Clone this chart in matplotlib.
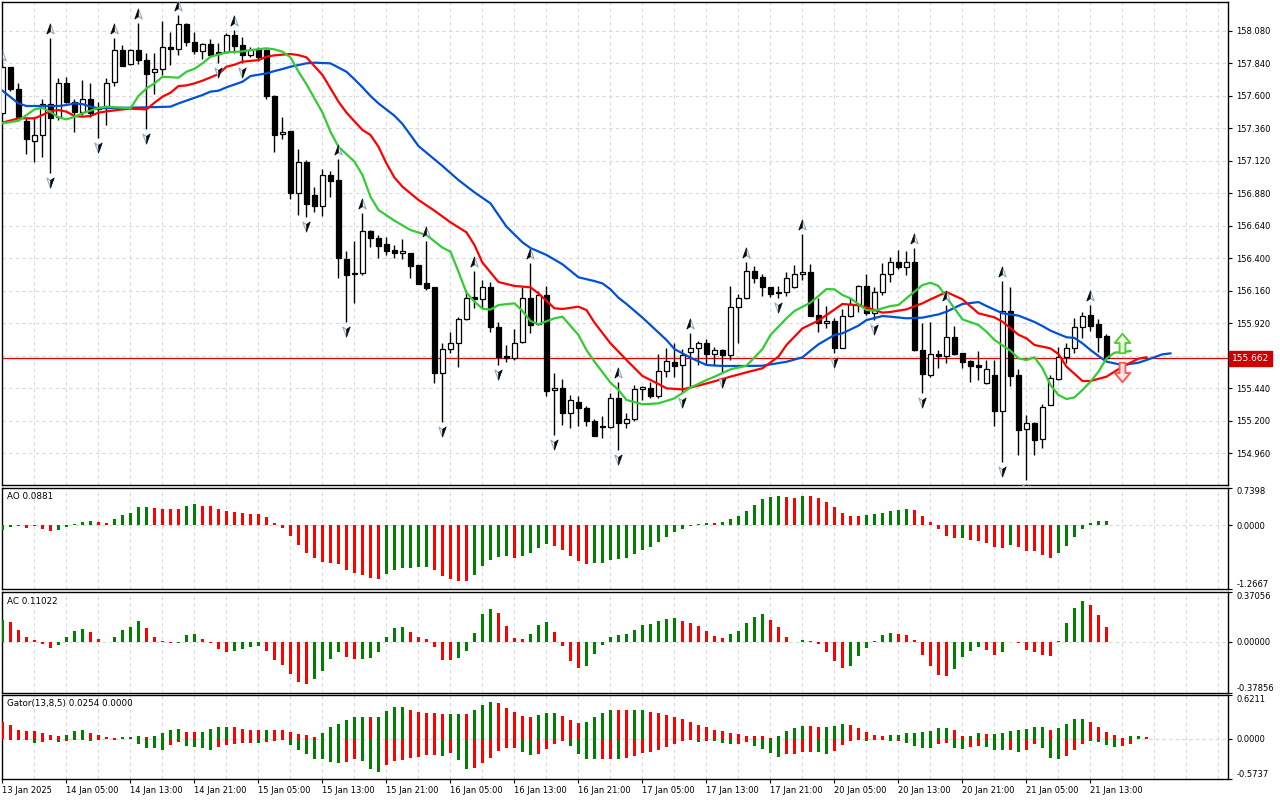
import numpy as np
import matplotlib
matplotlib.use("Agg")
import matplotlib.pyplot as plt
from matplotlib.path import Path
from matplotlib.transforms import offset_copy

# ---- hourly candles ----
opens = [157.475, 157.809, 157.647, 157.413, 157.265, 157.307, 157.536, 157.440, 157.691, 157.553,
         157.482, 157.578, 157.519, 157.519, 157.699, 157.937, 157.831, 157.937, 157.863, 157.772,
         157.799, 157.957, 157.947, 158.129, 157.999, 157.932, 157.982, 157.925, 157.925, 158.048,
         157.974, 157.900, 157.942, 157.937, 157.600, 157.315, 157.339, 156.879, 157.108, 156.867,
         156.788, 157.017, 156.977, 156.394, 156.288, 156.288, 156.603, 156.552, 156.502, 156.460,
         156.436, 156.436, 156.350, 156.214, 156.185, 155.550, 155.727, 155.771, 155.948, 156.111,
         156.096, 156.185, 155.894, 155.678, 155.660, 155.779, 156.104, 155.914, 156.128, 155.427,
         155.439, 155.259, 155.340, 155.291, 155.200, 155.161, 155.151, 155.365, 155.180, 155.210,
         155.431, 155.439, 155.385, 155.567, 155.636, 155.611, 155.705, 155.734, 155.771, 155.690,
         155.722, 155.685, 156.042, 156.104, 156.305, 156.259, 156.185, 156.148, 156.148, 156.185,
         156.283, 156.300, 155.980, 155.924, 155.936, 155.739, 155.973, 156.059, 156.195, 155.993,
         156.153, 156.281, 156.369, 156.337, 156.374, 155.722, 155.537, 155.692, 155.678, 155.820,
         155.697, 155.641, 155.609, 155.481, 155.537, 155.274, 156.012, 155.537, 155.136, 155.185,
         155.062, 155.316, 155.508, 155.673, 155.739, 155.894, 155.980, 155.914, 155.825]
highs = [157.827, 157.814, 157.691, 157.433, 157.445, 157.573, 158.028, 157.728, 157.740, 157.578,
         157.716, 157.691, 157.556, 157.728, 158.028, 157.974, 157.942, 158.134, 157.913, 157.918,
         158.151, 158.073, 158.196, 158.134, 158.068, 157.987, 158.019, 157.987, 158.060, 158.085,
         158.031, 157.962, 157.962, 157.942, 157.605, 157.440, 157.342, 157.206, 157.125, 156.923,
         157.059, 157.046, 157.130, 156.456, 156.529, 156.731, 156.608, 156.571, 156.559, 156.497,
         156.542, 156.441, 156.352, 156.529, 156.190, 155.771, 155.852, 155.968, 156.165, 156.308,
         156.239, 156.226, 155.931, 155.759, 155.875, 156.185, 156.362, 156.160, 156.195, 155.550,
         155.508, 155.390, 155.382, 155.308, 155.210, 155.234, 155.402, 155.488, 155.259, 155.463,
         155.459, 155.488, 155.692, 155.734, 155.771, 155.727, 155.850, 155.791, 155.801, 155.747,
         155.727, 156.195, 156.133, 156.369, 156.342, 156.283, 156.190, 156.195, 156.300, 156.350,
         156.576, 156.355, 156.104, 156.047, 155.956, 156.022, 156.104, 156.202, 156.283, 156.190,
         156.362, 156.406, 156.460, 156.456, 156.473, 155.919, 155.931, 155.722, 156.054, 155.899,
         155.702, 155.646, 155.717, 155.648, 155.648, 156.231, 156.190, 155.582, 155.242, 155.193,
         155.323, 155.537, 155.747, 155.771, 155.956, 156.000, 156.054, 155.948, 155.838]
lows = [157.457, 157.637, 157.433, 157.169, 157.113, 157.145, 157.031, 157.420, 157.543, 157.334,
        157.457, 157.445, 157.285, 157.383, 157.674, 157.818, 157.827, 157.834, 157.356, 157.612,
        157.753, 157.827, 157.900, 157.967, 157.908, 157.868, 157.883, 157.839, 157.913, 157.913,
        157.844, 157.888, 157.859, 157.575, 157.187, 157.278, 156.839, 156.716, 156.707, 156.743,
        156.714, 156.854, 156.251, 155.931, 156.072, 156.276, 156.480, 156.399, 156.424, 156.399,
        156.392, 156.251, 156.210, 156.165, 155.476, 155.193, 155.702, 155.599, 155.943, 156.030,
        156.030, 155.857, 155.611, 155.636, 155.648, 155.776, 155.845, 155.907, 155.382, 155.094,
        155.168, 155.144, 155.161, 155.161, 155.087, 155.070, 155.148, 154.983, 155.144, 155.200,
        155.353, 155.365, 155.365, 155.525, 155.525, 155.407, 155.439, 155.611, 155.619, 155.611,
        155.550, 155.648, 155.776, 156.096, 156.219, 156.121, 156.116, 156.104, 156.121, 156.177,
        156.239, 155.973, 155.857, 155.882, 155.702, 155.734, 155.968, 156.005, 155.980, 155.943,
        156.128, 156.226, 156.318, 156.276, 155.717, 155.407, 155.525, 155.592, 155.628, 155.685,
        155.587, 155.488, 155.500, 155.471, 155.161, 154.897, 155.456, 154.947, 154.762, 154.947,
        154.996, 155.313, 155.500, 155.624, 155.702, 155.808, 155.865, 155.710, 155.648]
closes = [157.809, 157.647, 157.445, 157.278, 157.310, 157.536, 157.433, 157.691, 157.556, 157.482,
          157.578, 157.475, 157.504, 157.691, 157.937, 157.822, 157.937, 157.863, 157.760, 157.797,
          157.957, 157.945, 158.127, 157.996, 157.932, 157.982, 157.900, 157.908, 158.046, 157.969,
          157.900, 157.937, 157.888, 157.600, 157.312, 157.334, 156.879, 157.108, 156.800, 156.788,
          157.014, 156.972, 156.399, 156.276, 156.281, 156.603, 156.547, 156.492, 156.456, 156.441,
          156.451, 156.345, 156.212, 156.182, 155.550, 155.727, 155.771, 155.948, 156.108, 156.096,
          156.185, 155.894, 155.673, 155.660, 155.776, 156.104, 155.907, 156.128, 155.422, 155.439,
          155.259, 155.353, 155.291, 155.200, 155.089, 155.151, 155.365, 155.180, 155.210, 155.431,
          155.446, 155.382, 155.567, 155.641, 155.606, 155.685, 155.734, 155.771, 155.690, 155.722,
          155.685, 156.037, 156.104, 156.305, 156.256, 156.185, 156.136, 156.140, 156.251, 156.283,
          156.300, 155.976, 155.924, 155.939, 155.739, 155.973, 156.059, 156.195, 155.993, 156.153,
          156.281, 156.369, 156.337, 156.374, 155.722, 155.542, 155.690, 155.680, 155.820, 155.690,
          155.636, 155.604, 155.599, 155.579, 155.274, 156.012, 155.532, 155.131, 155.185, 155.057,
          155.304, 155.513, 155.673, 155.739, 155.894, 155.976, 155.902, 155.820, 155.662]
last_price = 155.662

fractal_up = [0, 6, 14, 17, 22, 29, 42, 45, 53, 59, 66, 77, 86, 93, 100, 114, 118, 125, 136]
fractal_down = [6, 12, 18, 27, 30, 38, 43, 55, 62, 69, 77, 85, 90, 97, 104, 109, 115, 125, 128]

# Alligator (jaw / teeth / lips), sampled at these bars
jaw_bars = [0, 2, 3, 7, 8, 9, 10, 11, 12, 18, 21, 22, 25, 26, 27, 28, 30, 31, 33, 34, 35, 36, 38, 39,
            41, 43, 44, 45, 46, 47, 49, 50, 51, 52, 53, 55, 57, 59, 61, 62, 63, 65, 66, 68, 70, 72,
            74, 75, 76, 77, 78, 80, 83, 84, 86, 88, 90, 93, 95, 98, 100, 101, 102, 104, 105, 107,
            108, 110, 111, 113, 115, 117, 118, 120, 122, 123, 125, 127, 129, 130, 131, 133, 134,
            135, 136, 137, 138, 140, 142, 143, 145, 146]
jaw_vals = [157.637, 157.543, 157.524, 157.524, 157.531, 157.543, 157.538, 157.519, 157.507, 157.514,
            157.519, 157.543, 157.605, 157.630, 157.637, 157.662, 157.703, 157.745, 157.765, 157.782,
            157.797, 157.814, 157.839, 157.844, 157.839, 157.777, 157.721, 157.662, 157.598, 157.543,
            157.452, 157.391, 157.310, 157.228, 157.179, 157.081, 156.977, 156.886, 156.805, 156.719,
            156.633, 156.517, 156.475, 156.424, 156.355, 156.259, 156.231, 156.214, 156.170, 156.108,
            156.062, 155.961, 155.796, 155.729, 155.665, 155.611, 155.604, 155.604, 155.606, 155.635,
            155.668, 155.717, 155.764, 155.833, 155.845, 155.902, 155.943, 155.973, 155.968, 155.956,
            155.961, 155.985, 156.005, 156.062, 156.076, 156.047, 155.993, 155.976, 155.929, 155.899,
            155.865, 155.816, 155.811, 155.771, 155.722, 155.678, 155.636, 155.611, 155.628, 155.648,
            155.690, 155.697]
teeth_bars = [0, 2, 4, 5, 6, 7, 8, 9, 10, 11, 12, 13, 15, 16, 18, 19, 20, 21, 22, 23, 24, 25, 26,
              27, 28, 29, 30, 32, 33, 34, 36, 37, 38, 40, 42, 43, 45, 46, 47, 48, 49, 50, 52, 54,
              56, 58, 59, 60, 62, 64, 66, 67, 69, 70, 72, 73, 74, 76, 77, 78, 80, 82, 83, 85, 87,
              89, 91, 93, 95, 97, 98, 100, 102, 103, 105, 107, 108, 110, 111, 113, 115, 116, 118,
              120, 122, 124, 125, 127, 128, 129, 131, 132, 133, 135, 136, 138, 140, 142, 143]
teeth_vals = [157.401, 157.433, 157.433, 157.457, 157.487, 157.494, 157.482, 157.450, 157.445, 157.450,
              157.475, 157.484, 157.499, 157.504, 157.499, 157.548, 157.593, 157.622, 157.671, 157.676,
              157.691, 157.711, 157.735, 157.760, 157.814, 157.829, 157.851, 157.863, 157.888, 157.898,
              157.908, 157.900, 157.883, 157.753, 157.556, 157.475, 157.347, 157.310, 157.223, 157.100,
              156.995, 156.928, 156.830, 156.751, 156.665, 156.591, 156.497, 156.367, 156.224, 156.195,
              156.185, 156.140, 156.030, 156.025, 156.042, 156.017, 155.924, 155.771, 155.710, 155.648,
              155.530, 155.471, 155.439, 155.431, 155.459, 155.491, 155.525, 155.557, 155.587, 155.673,
              155.759, 155.882, 155.939, 155.980, 156.062, 156.052, 156.037, 155.998, 156.003, 156.022,
              156.067, 156.096, 156.150, 156.096, 155.993, 155.963, 155.931, 155.835, 155.808, 155.759,
              155.734, 155.692, 155.599, 155.493, 155.493, 155.525, 155.599, 155.658, 155.668]
lips_bars = [0, 2, 3, 4, 5, 6, 7, 8, 9, 10, 12, 13, 15, 16, 17, 18, 19, 20, 22, 23, 24, 25, 26, 28,
             30, 31, 33, 34, 35, 36, 37, 38, 40, 41, 42, 44, 45, 46, 47, 49, 51, 53, 55, 56, 57, 58,
             59, 60, 61, 62, 64, 65, 66, 67, 69, 70, 72, 73, 74, 76, 77, 78, 80, 82, 84, 86, 88, 89,
             91, 93, 95, 96, 98, 99, 101, 102, 103, 104, 105, 106, 108, 109, 110, 111, 112, 113, 115,
             116, 117, 118, 120, 122, 123, 124, 126, 127, 128, 129, 130, 131, 132, 133, 134, 135, 136,
             137, 138, 139, 141]
lips_vals = [157.396, 157.415, 157.457, 157.499, 157.511, 157.479, 157.440, 157.425, 157.445, 157.470,
             157.509, 157.519, 157.511, 157.507, 157.598, 157.654, 157.691, 157.740, 157.733, 157.777,
             157.799, 157.839, 157.888, 157.920, 157.927, 157.937, 157.950, 157.942, 157.925, 157.883,
             157.777, 157.685, 157.475, 157.334, 157.223, 157.113, 157.014, 156.854, 156.756, 156.677,
             156.608, 156.571, 156.478, 156.448, 156.300, 156.145, 156.079, 156.027, 156.020, 156.054,
             156.067, 156.010, 155.936, 155.912, 155.956, 155.968, 155.833, 155.722, 155.636, 155.481,
             155.427, 155.353, 155.321, 155.328, 155.365, 155.444, 155.500, 155.525, 155.579, 155.606,
             155.729, 155.833, 155.956, 156.010, 156.072, 156.121, 156.172, 156.170, 156.128, 156.104,
             156.017, 156.012, 156.030, 156.047, 156.054, 156.104, 156.202, 156.219, 156.195, 156.111,
             155.948, 155.907, 155.857, 155.796, 155.717, 155.660, 155.648, 155.668, 155.587, 155.463,
             155.390, 155.360, 155.372, 155.427, 155.488, 155.562, 155.660, 155.702, 155.714]

signal_bar = 140
signal_up_price = 155.776
signal_down_price = 155.563

# ---- Awesome oscillator ----
ao_vals = [-0.09, -0.03, -0.02, -0.05, -0.02, -0.07, -0.11, -0.09, -0.03, 0.02,
           0.05, 0.08, 0.066, 0.040, 0.119, 0.204, 0.244, 0.349, 0.362, 0.343,
           0.316, 0.316, 0.310, 0.382, 0.415, 0.382, 0.380, 0.316, 0.277, 0.257,
           0.237, 0.217, 0.211, 0.158, 0.046, -0.053, -0.211, -0.395, -0.547, -0.652,
           -0.731, -0.744, -0.771, -0.889, -0.942, -0.988, -1.047, -1.067, -0.968, -0.889,
           -0.843, -0.840, -0.823, -0.820, -0.889, -1.001, -1.067, -1.107, -1.110, -0.988,
           -0.804, -0.692, -0.626, -0.620, -0.646, -0.606, -0.547, -0.448, -0.369, -0.415,
           -0.494, -0.606, -0.711, -0.771, -0.744, -0.740, -0.685, -0.665, -0.646, -0.567,
           -0.487, -0.428, -0.329, -0.231, -0.132, -0.086, -0.020, 0.013, 0.040, 0.036,
           0.066, 0.125, 0.184, 0.283, 0.395, 0.514, 0.553, 0.573, 0.553, 0.540,
           0.575, 0.570, 0.540, 0.461, 0.362, 0.244, 0.178, 0.175, 0.191, 0.211,
           0.244, 0.283, 0.303, 0.316, 0.296, 0.178, 0.059, -0.086, -0.217, -0.264,
           -0.260, -0.296, -0.310, -0.349, -0.428, -0.448, -0.395, -0.428, -0.507, -0.514,
           -0.593, -0.646, -0.547, -0.415, -0.231, -0.072, 0.033, 0.079, 0.0881]
ao_cols = ("gggrgrrggg" "ggrrgggggr" "rrrggrrrrr" "rrrrrrrrrr" "rrrrrrrrgg" "ggggrrrrrg"
           "ggggrggggr" "rrrrgggggg" "gggggggggr" "ggggggggrr" "grrrrrrrgg" "ggggrrrrrr"
           "grrrrrgrrr" "rrggggggg")

# ---- Accelerator oscillator ----
ac_vals = [0.165, 0.150, 0.090, 0.040, 0.015, -0.017, -0.042, -0.020, 0.040, 0.082,
           0.097, 0.075, 0.022, 0.002, 0.037, 0.090, 0.115, 0.157, 0.107, 0.037,
           0.007, -0.010, -0.008, 0.055, 0.060, 0.022, -0.005, -0.050, -0.072, -0.065,
           -0.050, -0.035, -0.027, -0.065, -0.132, -0.175, -0.237, -0.295, -0.312, -0.275,
           -0.215, -0.125, -0.075, -0.110, -0.130, -0.125, -0.117, -0.075, 0.040, 0.102,
           0.112, 0.075, 0.037, 0.022, -0.035, -0.135, -0.137, -0.117, -0.065, 0.067,
           0.210, 0.247, 0.217, 0.120, 0.030, 0.022, 0.060, 0.127, 0.150, 0.075,
           -0.030, -0.140, -0.192, -0.180, -0.090, -0.020, 0.037, 0.052, 0.060, 0.090,
           0.127, 0.135, 0.157, 0.172, 0.180, 0.157, 0.142, 0.120, 0.082, 0.045,
           0.030, 0.060, 0.082, 0.142, 0.187, 0.210, 0.165, 0.112, 0.037, 0.002,
           0.015, 0.008, -0.017, -0.072, -0.140, -0.192, -0.180, -0.102, -0.042, 0.007,
           0.052, 0.067, 0.060, 0.052, 0.015, -0.095, -0.177, -0.245, -0.252, -0.200,
           -0.110, -0.065, -0.037, -0.057, -0.095, -0.072, -0.003, -0.010, -0.057, -0.072,
           -0.095, -0.102, 0.007, 0.145, 0.255, 0.307, 0.277, 0.202, 0.11022]
ac_cols = ("grrrrrrggg" "grrrggggrr" "rrgggrrrrg" "gggrrrrrrg" "gggrrggggg" "grrrrrrggg"
           "ggrrrrgggr" "rrrggggggg" "gggggrrrrr" "rgggggrrrr" "grrrrrgggg" "ggrrrrrrrg"
           "gggrrggrrr" "rrggggrrr")

# ---- Gator oscillator (upper = |jaw-teeth|, lower = -|teeth-lips|) ----
gator_up = [0.242, 0.199, 0.128, 0.114, 0.104, 0.085, 0.047, 0.033, 0.057, 0.104,
            0.119, 0.085, 0.047, 0.019, 0.014, 0.019, 0.019, 0.033, 0.019, 0.033,
            0.085, 0.119, 0.142, 0.100, 0.100, 0.100, 0.133, 0.161, 0.161, 0.161,
            0.142, 0.128, 0.119, 0.119, 0.119, 0.119, 0.100, 0.062, 0.047, 0.019,
            0.085, 0.161, 0.213, 0.270, 0.303, 0.313, 0.303, 0.313, 0.394, 0.455,
            0.455, 0.413, 0.384, 0.370, 0.370, 0.356, 0.356, 0.356, 0.356, 0.413,
            0.484, 0.526, 0.512, 0.441, 0.384, 0.327, 0.313, 0.341, 0.370, 0.370,
            0.327, 0.270, 0.228, 0.242, 0.313, 0.370, 0.413, 0.413, 0.413, 0.413,
            0.413, 0.384, 0.370, 0.341, 0.313, 0.284, 0.242, 0.199, 0.171, 0.128,
            0.114, 0.085, 0.071, 0.043, 0.043, 0.043, 0.014, 0.043, 0.114, 0.156,
            0.185, 0.185, 0.171, 0.171, 0.185, 0.213, 0.199, 0.156, 0.100, 0.057,
            0.043, 0.057, 0.057, 0.085, 0.085, 0.100, 0.114, 0.156, 0.156, 0.128,
            0.043, 0.043, 0.085, 0.071, 0.071, 0.085, 0.114, 0.128, 0.142, 0.171,
            0.171, 0.128, 0.156, 0.213, 0.284, 0.284, 0.242, 0.171, 0.100, 0.057,
            0.014, 0.043, 0.043, 0.0254]
gator_up_cols = ("rrrrrrrrgg" "grrrrgggrg" "gggrrggggr" "rrrgrrrrrr" "ggggggrggg" "grrrrrggrg"
                 "ggrrrrrggg" "rrrggggrrg" "grrrrrrrrr" "rrrrrrrggg" "grrgggrrrr" "rggggggggr"
                 "rggrgggggg" "grggggrrrr" "rggr")
gator_low = [-0.004, -0.014, -0.024, -0.014, -0.066, -0.052, -0.014, -0.052, -0.038, -0.014,
             -0.024, -0.038, -0.024, -0.009, -0.014, -0.005, -0.005, -0.081, -0.138, -0.138,
             -0.156, -0.090, -0.052, -0.100, -0.123, -0.138, -0.156, -0.119, -0.090, -0.081,
             -0.066, -0.066, -0.066, -0.052, -0.038, -0.024, -0.095, -0.166, -0.223, -0.284,
             -0.294, -0.327, -0.341, -0.327, -0.294, -0.313, -0.427, -0.469, -0.379, -0.320,
             -0.299, -0.270, -0.256, -0.228, -0.228, -0.242, -0.209, -0.299, -0.427, -0.413,
             -0.341, -0.270, -0.171, -0.128, -0.128, -0.185, -0.228, -0.213, -0.142, -0.071,
             -0.028, -0.100, -0.213, -0.284, -0.284, -0.284, -0.284, -0.284, -0.270, -0.242,
             -0.199, -0.185, -0.156, -0.114, -0.071, -0.028, -0.014, -0.043, -0.028, -0.028,
             -0.057, -0.071, -0.071, -0.043, -0.100, -0.142, -0.199, -0.256, -0.213, -0.213,
             -0.185, -0.185, -0.185, -0.213, -0.171, -0.085, -0.028, -0.014, -0.028, -0.014,
             -0.014, -0.038, -0.028, -0.057, -0.100, -0.128, -0.128, -0.071, -0.057, -0.128,
             -0.142, -0.114, -0.100, -0.114, -0.156, -0.156, -0.156, -0.185, -0.156, -0.071,
             -0.128, -0.270, -0.284, -0.242, -0.156, -0.071, -0.028, -0.043, -0.085, -0.114,
             -0.100, -0.071]
gator_low_cols = ("rggrgrrgrg" "ggrrgggggg" "grrggggrrr" "rrgrrrgggg" "gggrrgggrr" "rrrrrgrggr"
                  "rrrrrggrrr" "rggggrrgrr" "rrrrrrrgrg" "ggrrggggrr" "rrggrrrggg" "ggrggggrrg"
                  "grrgggrgrr" "gggrrrgggg" "rr")

time_labels = ["13 Jan 2025", "14 Jan 05:00", "14 Jan 13:00", "14 Jan 21:00", "15 Jan 05:00",
               "15 Jan 13:00", "15 Jan 21:00", "16 Jan 05:00", "16 Jan 13:00", "16 Jan 21:00",
               "17 Jan 05:00", "17 Jan 13:00", "17 Jan 21:00", "20 Jan 05:00", "20 Jan 13:00",
               "20 Jan 21:00", "21 Jan 05:00", "21 Jan 13:00"]
price_ticks = [154.960, 155.200, 155.440, 155.680, 155.920, 156.160, 156.400, 156.640,
               156.880, 157.120, 157.360, 157.600, 157.840, 158.080]
ao_range = (-1.2667, 0.7398)
ac_range = (-0.37856, 0.37056)
gator_range = (-0.5737, 0.6211)

# ---- styling ----
GREEN = "#008000"
RED = "#ff0000"
GRID = "#d9d9d9"
plt.rcParams["font.family"] = ["DejaVu Sans"]

W, H = 1280, 800
fig = plt.figure(figsize=(W / 100, H / 100), dpi=100)
fig.patch.set_facecolor("white")


def panel(top, bottom):
    a = fig.add_axes([2 / W, 1 - bottom / H, 1226 / W, (bottom - top) / H])
    a.set_xlim(-0.06, 153.19)
    for s in a.spines.values():
        s.set_color("black")
        s.set_linewidth(1.0)
    a.yaxis.tick_right()
    a.tick_params(axis="y", direction="out", length=3, width=0.8, labelsize=6, pad=3)
    a.tick_params(axis="x", bottom=False, labelbottom=False)
    for b in range(4, 154, 4):
        a.axvline(b, color=GRID, lw=0.8, ls=(0, (3, 3)), zorder=0)
    return a


ax = panel(2, 485)
ax_ao = panel(487.5, 589.3)
ax_ac = panel(592.3, 692.7)
ax_gt = panel(695, 779)

# ---- main price panel ----
ax.set_ylim(154.725, 158.292)
# the current-price box covers the nearest scale label, as on the terminal
hidden = min(price_ticks, key=lambda p: abs(p - last_price))
ax.set_yticks(price_ticks, labels=["" if p == hidden else f"{p:.3f}" for p in price_ticks])
for p in price_ticks:
    ax.axhline(p, color=GRID, lw=0.8, ls=(0, (3, 3)), zorder=0)

o, hi, lo, c = map(np.array, (opens, highs, lows, closes))
x = np.arange(len(o))
bull = c >= o
ax.vlines(x, lo, hi, color="black", lw=1.0, zorder=3)
ax.bar(x, np.maximum(np.abs(c - o), 0.0005), bottom=np.minimum(o, c), width=0.6,
       color=np.where(bull, "white", "black"), edgecolor="black", linewidth=0.9, zorder=4)

ax.axhline(last_price, color="#e00000", lw=0.9, zorder=2)

ax.plot(jaw_bars, jaw_vals, color="#0050d8", lw=1.6, zorder=5, solid_joinstyle="round")
ax.plot(teeth_bars, teeth_vals, color="#ff0000", lw=1.6, zorder=5, solid_joinstyle="round")
ax.plot(lips_bars, lips_vals, color="#33cc33", lw=1.6, zorder=5, solid_joinstyle="round")

# fractal arrows
M, L, C = Path.MOVETO, Path.LINETO, Path.CLOSEPOLY
up_full = Path([(0, 1), (0.65, -0.8), (0, -0.35), (-0.65, -0.8), (0, 1)], [M, L, L, L, C])
up_half = Path([(0, 1), (0, -0.35), (-0.65, -0.8), (0, 1)], [M, L, L, C])
dn_full = Path([(0, -1), (0.65, 0.8), (0, 0.35), (-0.65, 0.8), (0, -1)], [M, L, L, L, C])
dn_half = Path([(0, -1), (0.65, 0.8), (0, 0.35), (0, -1)], [M, L, L, C])
up_tr = offset_copy(ax.transData, fig=fig, y=9, units="dots")
dn_tr = offset_copy(ax.transData, fig=fig, y=-9, units="dots")
fu_y = [highs[i] for i in fractal_up]
fd_y = [lows[i] for i in fractal_down]
ax.plot(fractal_up, fu_y, ls="none", marker=up_full, ms=8, mfc="white", mec="#8fa8c0",
        mew=0.8, transform=up_tr, zorder=6)
ax.plot(fractal_up, fu_y, ls="none", marker=up_half, ms=8, mfc="black", mec="black",
        mew=0.4, transform=up_tr, zorder=7)
ax.plot(fractal_down, fd_y, ls="none", marker=dn_full, ms=8, mfc="white", mec="#8fa8c0",
        mew=0.8, transform=dn_tr, zorder=6)
ax.plot(fractal_down, fd_y, ls="none", marker=dn_half, ms=8, mfc="black", mec="black",
        mew=0.4, transform=dn_tr, zorder=7)

# signal block arrows at the alligator mouth
blk_up = Path([(-0.3, -1), (0.3, -1), (0.3, 0.05), (0.8, 0.05), (0, 1), (-0.8, 0.05),
               (-0.3, 0.05), (-0.3, -1)], [M, L, L, L, L, L, L, C])
blk_dn = Path([(-0.3, 1), (0.3, 1), (0.3, -0.05), (0.8, -0.05), (0, -1), (-0.8, -0.05),
               (-0.3, -0.05), (-0.3, 1)], [M, L, L, L, L, L, L, C])
ax.plot([signal_bar], [signal_up_price], marker=blk_up, ms=14, mfc="#eaffdf", mec="#55cc33",
        mew=1.4, ls="none", zorder=8)
ax.plot([signal_bar], [signal_down_price], marker=blk_dn, ms=14, mfc="#ffe6e6", mec="#ff5a5a",
        mew=1.4, ls="none", zorder=8)

ax.annotate(f"{last_price:.3f}", xy=(1, last_price), xycoords=("axes fraction", "data"),
            xytext=(3.0, -0.3), textcoords="offset points", ha="left", va="center",
            color="white", fontsize=6.5,
            bbox=dict(boxstyle="square,pad=0.3", fc="#cc0000", ec="#cc0000"),
            annotation_clip=False, zorder=10)


# ---- oscillator panels ----
def osc(a, vals, cols, rng, title, start=0):
    xs = np.arange(start, start + len(vals))
    a.bar(xs, vals, width=0.45, color=[GREEN if ch == "g" else RED for ch in cols],
          linewidth=0, zorder=3)
    a.set_ylim(*rng)
    a.axhline(0, color=GRID, lw=0.8, ls=(0, (3, 3)), zorder=1)
    if title:
        a.text(0.004, 0.955, title, transform=a.transAxes, ha="left", va="top", fontsize=6.3)


osc(ax_ao, ao_vals, ao_cols, ao_range, "AO 0.0881")
osc(ax_ac, ac_vals, ac_cols, ac_range, "AC 0.11022")
osc(ax_gt, gator_up, gator_up_cols, gator_range, "Gator(13,8,5) 0.0254 0.0000")
osc(ax_gt, gator_low, gator_low_cols, gator_range, None)

for a, rng, fmt in ((ax_ao, ao_range, "{:.4f}"), (ax_ac, ac_range, "{:.5f}"),
                    (ax_gt, gator_range, "{:.4f}")):
    a.set_yticks([rng[0], 0, rng[1]], labels=[fmt.format(rng[0]), fmt.format(0.0),
                                               fmt.format(rng[1])])
    tl = a.get_yticklabels()
    tl[0].set_verticalalignment("bottom")
    tl[2].set_verticalalignment("top")

ax_gt.set_xticks(range(0, 8 * len(time_labels), 8), labels=time_labels)
ax_gt.tick_params(axis="x", bottom=True, labelbottom=True, direction="out", length=3,
                  width=0.8, labelsize=6, pad=2)
for t in ax_gt.get_xticklabels():
    t.set_horizontalalignment("left")

fig.savefig("out.png", dpi=100, facecolor="white")
